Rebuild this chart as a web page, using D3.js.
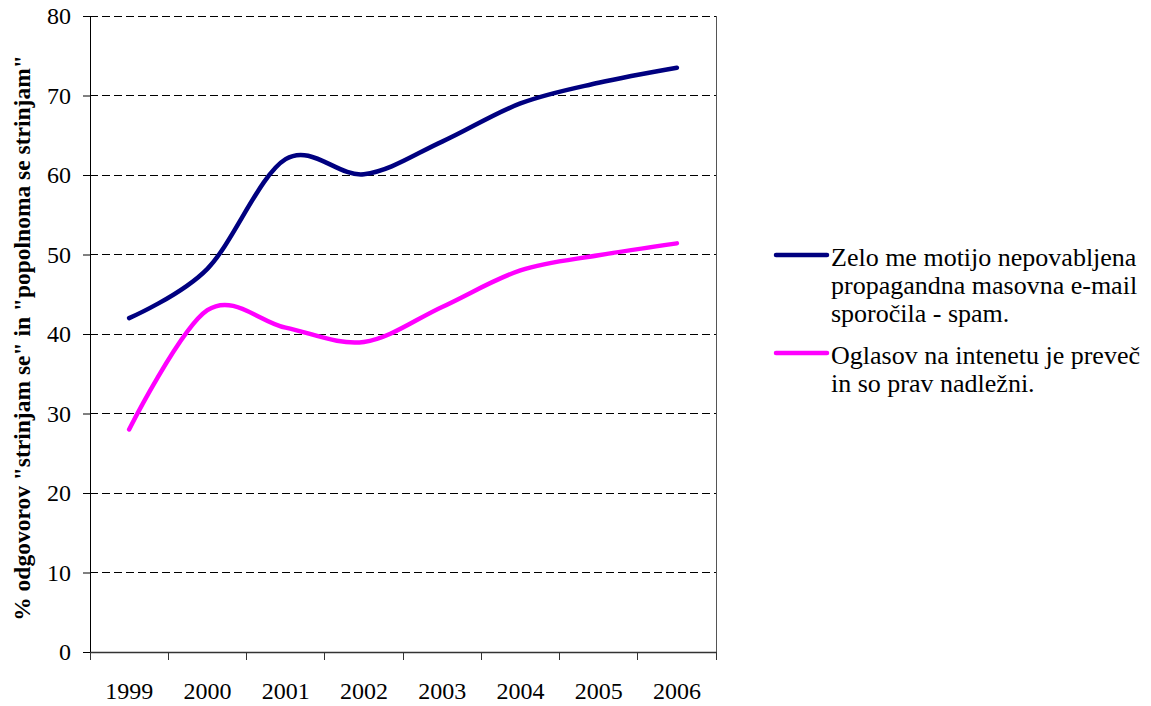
<!DOCTYPE html>
<html lang="sl">
<head>
<meta charset="UTF-8">
<title>Spam in oglasi na internetu</title>
<script src="https://d3js.org/d3.v7.min.js"></script>
<style>
  body { margin: 0; background: #fff; }
  svg { display: block; }
</style>
</head>
<body>
<div id="chart"></div>
<script>
// values
const years = ["1999", "2000", "2001", "2002", "2003", "2004", "2005", "2006"];
const spam = [42, 48.2, 62, 60.1, 64.2, 69, 71.6, 73.5];
const ads = [28, 43, 40.8, 39.0, 43.4, 48, 49.9, 51.4];
const yTicks = [0, 10, 20, 30, 40, 50, 60, 70, 80];

const series = [
  { name: ["Zelo me motijo nepovabljena", "propagandna masovna e-mail", "sporočila - spam."], values: spam, color: "#000080" },
  { name: ["Oglasov na intenetu je preveč", "in so prav nadležni."], values: ads, color: "#ff00ff" }
];

const FONT = '"Liberation Serif", "Times New Roman", serif';
const width = 1151, height = 706;
const margin = { top: 16, left: 90, right: 435, bottom: 54 };
const plotW = width - margin.left - margin.right;
const plotH = height - margin.top - margin.bottom;

const svg = d3.select("#chart").append("svg")
  .attr("width", width)
  .attr("height", height);

const x = d3.scaleBand().domain(years).range([0, plotW]);
const y = d3.scaleLinear().domain([0, 80]).range([plotH, 0]);

const g = svg.append("g").attr("transform", `translate(${margin.left},${margin.top})`);

// dashed gridlines
g.append("g")
  .selectAll("line")
  .data(yTicks.filter(d => d > 0))
  .join("line")
  .attr("x1", 0).attr("x2", plotW)
  .attr("y1", d => y(d)).attr("y2", d => y(d))
  .attr("stroke", "#000")
  .attr("stroke-width", 1)
  .attr("stroke-dasharray", "8,4")
  .attr("shape-rendering", "crispEdges");

// right border
g.append("line")
  .attr("x1", plotW).attr("x2", plotW)
  .attr("y1", 0).attr("y2", plotH)
  .attr("stroke", "#555")
  .attr("shape-rendering", "crispEdges");

// y axis
const yAxis = g.append("g")
  .call(d3.axisLeft(y).tickValues(yTicks).tickSize(7).tickPadding(12));
yAxis.select(".domain").attr("stroke", "#000");
yAxis.selectAll(".tick line").attr("stroke", "#000");
yAxis.selectAll("text")
  .style("font-family", FONT)
  .style("font-size", "24px")
  .attr("fill", "#000");

// x axis, ticks between categories
const xAxis = g.append("g")
  .attr("transform", `translate(0,${plotH})`)
  .call(d3.axisBottom(x).tickSize(0).tickPadding(30));
xAxis.select(".domain").attr("stroke", "#333").attr("stroke-width", 1.5);
xAxis.selectAll("text")
  .style("font-family", FONT)
  .style("font-size", "24px")
  .attr("fill", "#000");
g.append("g")
  .selectAll("line")
  .data(years.map(d => x(d)).concat([plotW]))
  .join("line")
  .attr("x1", d => d).attr("x2", d => d)
  .attr("y1", plotH).attr("y2", plotH + 8)
  .attr("stroke", "#333")
  .attr("shape-rendering", "crispEdges");

// lines (Excel-style smoothing)
const line = d3.line()
  .x((d, i) => x(years[i]) + x.bandwidth() / 2)
  .y(d => y(d))
  .curve(d3.curveCardinal.tension(0));

g.selectAll(".series")
  .data(series)
  .join("path")
  .attr("class", "series")
  .attr("d", d => line(d.values))
  .attr("fill", "none")
  .attr("stroke", d => d.color)
  .attr("stroke-width", 4.5)
  .attr("stroke-linecap", "round")
  .attr("stroke-linejoin", "round");

// y axis title
svg.append("text")
  .attr("transform", "translate(30,338) rotate(-90)")
  .attr("text-anchor", "middle")
  .style("font-family", FONT)
  .style("font-size", "23.5px")
  .style("font-weight", "bold")
  .text('% odgovorov "strinjam se" in "popolnoma se strinjam"');

// legend
const legend = svg.append("g").attr("transform", "translate(776,255)");
const lineH = 28;
let offset = 0;
series.forEach(s => {
  const item = legend.append("g").attr("transform", `translate(0,${offset})`);
  item.append("line")
    .attr("x1", 0).attr("x2", 51)
    .attr("y1", 0).attr("y2", 0)
    .attr("stroke", s.color)
    .attr("stroke-width", 4.5)
    .attr("stroke-linecap", "round");
  item.selectAll("text")
    .data(s.name)
    .join("text")
    .attr("x", 55)
    .attr("y", (d, i) => 11 + i * lineH)
    .style("font-family", FONT)
    .style("font-size", "26px")
    .attr("fill", "#000")
    .text(d => d);
  offset += s.name.length * lineH + 14;
});
</script>
</body>
</html>
